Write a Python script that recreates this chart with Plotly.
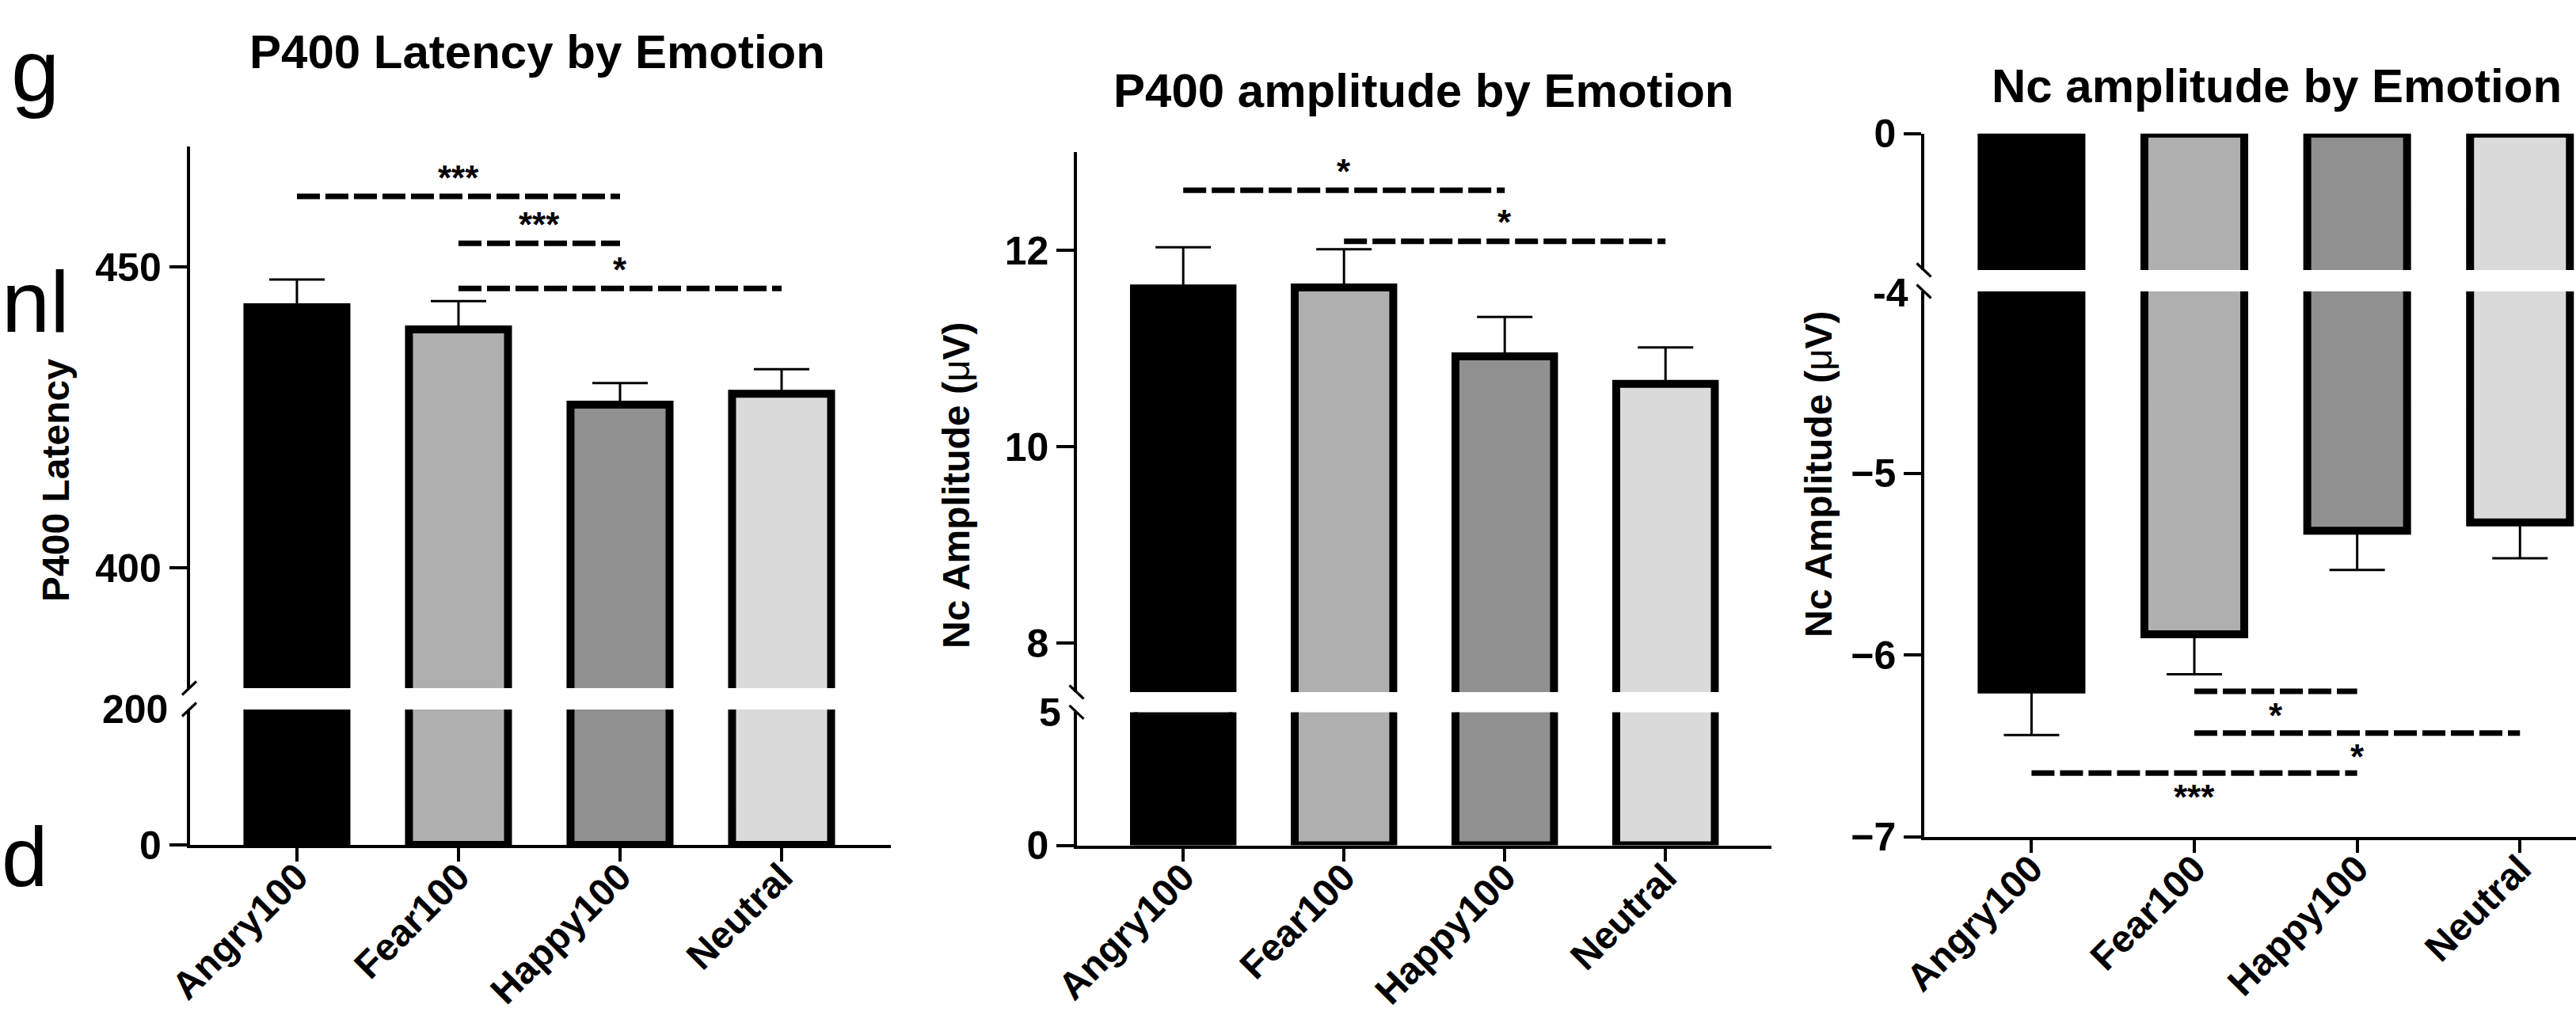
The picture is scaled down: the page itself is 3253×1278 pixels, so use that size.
import plotly.graph_objects as go

W, H = 3253, 1278

# ---------------- data ----------------
categories = ["Angry100", "Fear100", "Happy100", "Neutral"]
bar_colors = ["#000000", "#afafaf", "#909090", "#dadada"]

p400_lat_mean = [443.3, 439.6, 427.1, 428.9]
p400_lat_sem = [4.6, 4.7, 3.6, 4.1]

p400_amp_mean = [11.61, 11.62, 10.92, 10.64]
p400_amp_sem = [0.42, 0.39, 0.40, 0.37]

nc_amp_mean = [-6.19, -5.886, -5.317, -5.271]
nc_amp_sem = [0.25, 0.22, 0.215, 0.197]

# comparisons: (from index, to index, level, label)
p400_lat_sig = [(0, 2, 461.7, "***"), (1, 2, 453.9, "***"), (1, 3, 446.4, "*")]
p400_amp_sig = [(0, 2, 12.61, "*"), (1, 3, 12.09, "*")]
nc_amp_sig = [(1, 2, -6.20, "*"), (1, 3, -6.43, "*"), (0, 2, -6.65, "***")]

titles = ["P400 Latency by Emotion", "P400 amplitude by Emotion", "Nc amplitude by Emotion"]
ytitles = ["P400 Latency", "Nc Amplitude (μV)", "Nc Amplitude (μV)"]

up_ticks = [[400, 450], [8, 10, 12], [0]]
lo_ticks = [[0], [0], [-7, -6, -5]]
break_labels = ["200", "5", "-4"]

# ---------------- layout config (pixels) ----------------
FONT = "Liberation Sans, Arial, Helvetica, sans-serif"
panels = [
    dict(mean=p400_lat_mean, sem=p400_lat_sem, sig=p400_lat_sig, neg=False,
         xpx=(239.5, 1124.5), xrange=(-0.664, 3.674),
         up_px=(185, 869), up_range=(380, 470),
         lo_px=(896, 1067), lo_range=(0, 200),
         slash=1, title_xy=(678, 66), ytitle_xy=(70, 607), blabel_xy=(214, 896)),
    dict(mean=p400_amp_mean, sem=p400_amp_sem, sig=p400_amp_sig, neg=False,
         xpx=(1360, 2237), xrange=(-0.661, 3.659),
         up_px=(192, 874), up_range=(7.5, 13),
         lo_px=(899.4, 1067.6), lo_range=(0, 5),
         slash=-1, title_xy=(1798, 115), ytitle_xy=(1208, 613), blabel_xy=(1342, 900)),
    dict(mean=nc_amp_mean, sem=nc_amp_sem, sig=nc_amp_sig, neg=True,
         xpx=(2430, 3253), xrange=(-0.6586, 3.344),
         up_px=(168.7, 341), up_range=(-0.75, 0),
         lo_px=(368, 1056.7), lo_range=(-7, -4),
         slash=-1, title_xy=(2875, 108), ytitle_xy=(2296, 599), blabel_xy=(2412, 370)),
]

def px_x(v):
    return v / W

def px_y(v):
    return 1 - v / H

fig = go.Figure()
layout = dict(width=W, height=H, autosize=False, margin=dict(l=0, r=0, t=0, b=0, pad=0),
              paper_bgcolor="white", plot_bgcolor="white", showlegend=False,
              barmode="overlay", font=dict(family=FONT, color="black"))
shapes = []
annotations = []

BAR_W = 0.613
AX_W = 3.5
x_idx = list(range(len(categories)))

for i, p in enumerate(panels):
    xn = "x" if i == 0 else f"x{i + 1}"
    lo_n = "y" if i == 0 else f"y{2 * i + 1}"
    up_n = f"y{2 * i + 2}"
    xkey = "xaxis" if i == 0 else f"xaxis{i + 1}"
    lokey = "yaxis" if i == 0 else f"yaxis{2 * i + 1}"
    upkey = f"yaxis{2 * i + 2}"

    zeros = [0] * len(p["mean"])
    if p["neg"]:
        err = dict(type="data", symmetric=False, array=zeros, arrayminus=p["sem"],
                   color="black", thickness=3, width=35)
    else:
        err = dict(type="data", symmetric=False, array=p["sem"], arrayminus=zeros,
                   color="black", thickness=3, width=35)

    for seg in ("lo", "up"):
        yn = lo_n if seg == "lo" else up_n
        show_err = (seg == "up") != p["neg"]
        fig.add_trace(go.Bar(
            x=x_idx, y=p["mean"], xaxis=xn, yaxis=yn, width=BAR_W,
            marker=dict(color=bar_colors, line=dict(color="black", width=10)),
            error_y=err if show_err else None, hoverinfo="skip"))

    layout[xkey] = dict(domain=[px_x(p["xpx"][0]), px_x(p["xpx"][1])], range=list(p["xrange"]),
                        anchor=lo_n, tickmode="array", tickvals=x_idx, ticktext=categories,
                        tickangle=-45, ticks="outside", ticklen=17, tickwidth=AX_W,
                        tickcolor="black", showline=True, linecolor="black", linewidth=AX_W,
                        showgrid=False, zeroline=False, fixedrange=True, automargin=False,
                        ticklabelstandoff=-28,
                        tickfont=dict(size=48, family=FONT, weight="bold", color="black"))
    common_y = dict(anchor=xn, ticks="outside", ticklen=22, tickwidth=AX_W, tickcolor="black",
                    showline=True, linecolor="black", linewidth=AX_W, showgrid=False,
                    zeroline=False, fixedrange=True, tickmode="array", automargin=False,
                    tickfont=dict(size=50, family=FONT, weight="bold", color="black"))
    layout[lokey] = dict(common_y, domain=[px_y(p["lo_px"][1]), px_y(p["lo_px"][0])],
                         range=list(p["lo_range"]), tickvals=lo_ticks[i])
    layout[upkey] = dict(common_y, domain=[px_y(p["up_px"][1]), px_y(p["up_px"][0])],
                         range=list(p["up_range"]), tickvals=up_ticks[i])

    # break slashes on the y axis
    ax_x = p["xpx"][0] - 0.5
    for cy in (p["up_px"][1], p["lo_px"][0]):
        dx, dy = 9, 8.5
        shapes.append(dict(type="line", xref="paper", yref="paper",
                           x0=px_x(ax_x - dx), x1=px_x(ax_x + dx),
                           y0=px_y(cy + dy * p["slash"]), y1=px_y(cy - dy * p["slash"]),
                           line=dict(color="black", width=3.2)))

    annotations.append(dict(xref="paper", yref="paper", x=px_x(p["blabel_xy"][0]),
                            y=px_y(p["blabel_xy"][1]), xanchor="right", yanchor="middle",
                            text=break_labels[i], showarrow=False,
                            font=dict(size=50, family=FONT, weight="bold", color="black")))

    sig_y = lo_n if p["neg"] else up_n
    for (a, b, lvl, lab) in p["sig"]:
        shapes.append(dict(type="line", xref=xn, yref=sig_y, x0=a, x1=b, y0=lvl, y1=lvl,
                           line=dict(color="black", width=7, dash="29px,7px")))
        annotations.append(dict(xref=xn, yref=sig_y, x=(a + b) / 2, y=lvl,
                                yshift=(-30 if p["neg"] else 24), xanchor="center",
                                yanchor="middle", text=lab, showarrow=False,
                                font=dict(size=44, family=FONT, weight="bold", color="black")))

    annotations.append(dict(xref="paper", yref="paper", x=px_x(p["title_xy"][0]),
                            y=px_y(p["title_xy"][1]), xanchor="center", yanchor="middle",
                            text=titles[i], showarrow=False,
                            font=dict(size=60, family=FONT, weight="bold", color="black")))
    ytxt = ytitles[i].replace("μ", "<span style='font-weight:normal'>μ</span>")
    annotations.append(dict(xref="paper", yref="paper", x=px_x(p["ytitle_xy"][0]),
                            y=px_y(p["ytitle_xy"][1]), xanchor="center", yanchor="middle",
                            text=ytxt, textangle=-90, showarrow=False,
                            font=dict(size=48, family=FONT, weight="bold", color="black")))

# cropped letters from a neighbouring figure at the left edge
edge_texts = [("g", 44, 88, "center", 110), ("nl", 90, 380, "right", 110),
              ("d", 62, 1082, "right", 105)]
for t, ex, ey, anc, fs in edge_texts:
    annotations.append(dict(xref="paper", yref="paper", x=px_x(ex), y=px_y(ey),
                            xanchor=anc, yanchor="middle", text=t, showarrow=False,
                            font=dict(size=fs, family=FONT, color="black")))

layout["shapes"] = shapes
layout["annotations"] = annotations
fig.update_layout(**layout)
fig.write_html("out.html", config={"displayModeBar": False},
               post_script="document.body.style.margin='0';document.body.style.overflow='hidden';")
